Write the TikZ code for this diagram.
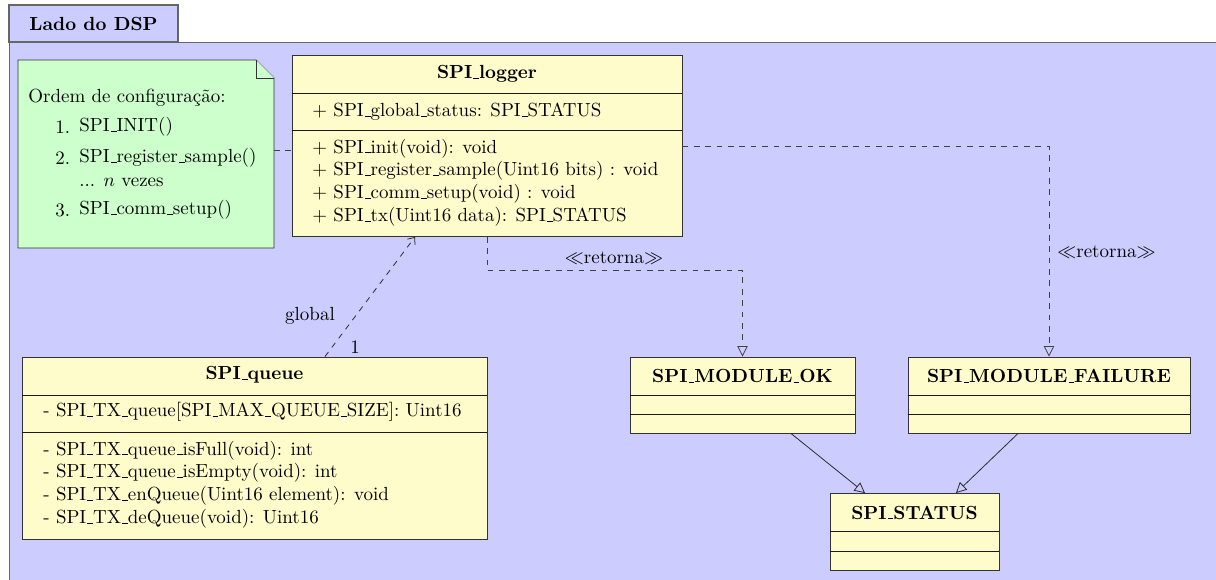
\documentclass[tikz,border=0pt]{standalone}
\usetikzlibrary{arrows.meta,calc}
\newcommand{\us}{\leavevmode\kern.06em\vbox{\hrule width.3em}}
\begin{document}
\begin{tikzpicture}[x=0.527pt,y=-0.527pt,
  pkgbox/.style={draw=black!60, fill=blue!20, inner sep=0pt, line width=0.6pt},
  classbox/.style={draw=black!80, fill=yellow!20, inner sep=0pt, rectangle, line width=0.5pt},
  sepline/.style={draw=black!90, line width=0.5pt},
  notebox/.style={draw=black!80, fill=green!20, line width=0.5pt},
  dep/.style={draw=black!75, dashed, -{Triangle[open,length=5.5pt,width=5.5pt]}},
  assoc/.style={draw=black!85, dashed, -{Straight Barb[length=3pt,width=5pt]}},
  gen/.style={draw=black!85, -{Triangle[open,length=5.5pt,width=5.5pt]}},
  ctitle/.style={font=\bfseries, inner sep=0pt},
  ctext/.style={align=left, inner sep=0pt, anchor=west},
  lbl/.style={inner sep=0pt}
]
\def\U{0.527pt}
\path[use as bounding box] (0,0) rectangle (1216,579);
\clip (0,0) rectangle (1216,579);

% package
\node[pkgbox, anchor=north west, minimum width={1240*\U}, minimum height={580*\U}] (pkg) at (9,42) {};
\node[pkgbox, minimum width={169*\U}, minimum height={37*\U}] (tab) at (93.5,23.5) {};
\node[ctitle] (tabtitle) at (tab.center) {Lado do DSP};

% note
\draw[notebox] (18,60) -- (256,60) -- (274,78) -- (274,248) -- (18,248) -- cycle;
\draw[notebox] (256,60) -- (256,78) -- (274,78);
\coordinate (noteE) at (274,150);
\node[lbl, anchor=west] (notehead) at (28,98) {Ordem de configuração:};
\node[lbl, anchor=west] (n1) at (55,127) {1.};
\node[lbl, anchor=west] (t1) at (79,127) {SPI\us INIT()};
\node[lbl, anchor=west] (n2) at (55,158) {2.};
\node[lbl, anchor=west] (t2) at (79,158) {SPI\us register\us sample()};
\node[lbl, anchor=west] (t2b) at (79,182) {... $n$ vezes};
\node[lbl, anchor=west] (n3) at (55,210) {3.};
\node[lbl, anchor=west] (t3) at (79,210) {SPI\us comm\us setup()};

% SPI_logger
\node[classbox, minimum width={390*\U}, minimum height={181*\U}] (logger) at (487,146) {};
\draw[sepline] (logger.west |- 0,93) -- (logger.east |- 0,93);
\draw[sepline] (logger.west |- 0,130.7) -- (logger.east |- 0,130.7);
\node[ctitle] (loggerT) at (487,74) {SPI\us logger};
\node[ctext] (loggerA) at (312,112) {+ SPI\us global\us status: SPI\us STATUS};
\node[ctext] (loggerM) at (312,182.5) {+ SPI\us init(void): void\\+ SPI\us register\us sample(Uint16 bits) : void\\+ SPI\us comm\us setup(void) : void\\+ SPI\us tx(Uint16 data): SPI\us STATUS};

% SPI_queue
\node[classbox, minimum width={465*\U}, minimum height={182*\U}] (queue) at (254.5,448) {};
\draw[sepline] (queue.west |- 0,395) -- (queue.east |- 0,395);
\draw[sepline] (queue.west |- 0,432) -- (queue.east |- 0,432);
\node[ctitle] (queueT) at (254.5,375) {SPI\us queue};
\node[ctext] (queueA) at (43,412) {- SPI\us TX\us queue[SPI\us MAX\us QUEUE\us SIZE]: Uint16};
\node[ctext] (queueM) at (43,484.5) {- SPI\us TX\us queue\us isFull(void): int\\- SPI\us TX\us queue\us isEmpty(void): int\\- SPI\us TX\us enQueue(Uint16 element): void\\- SPI\us TX\us deQueue(void): Uint16};

% SPI_MODULE_OK
\node[classbox, minimum width={225*\U}, minimum height={76*\U}] (ok) at (742.5,395) {};
\draw[sepline] (ok.west |- 0,395) -- (ok.east |- 0,395);
\draw[sepline] (ok.west |- 0,414) -- (ok.east |- 0,414);
\node[ctitle] (okT) at (742.5,376) {SPI\us MODULE\us OK};

% SPI_MODULE_FAILURE
\node[classbox, minimum width={282*\U}, minimum height={76*\U}] (failure) at (1049,395) {};
\draw[sepline] (failure.west |- 0,395) -- (failure.east |- 0,395);
\draw[sepline] (failure.west |- 0,414) -- (failure.east |- 0,414);
\node[ctitle] (failureT) at (1049,376) {SPI\us MODULE\us FAILURE};

% SPI_STATUS
\node[classbox, minimum width={169*\U}, minimum height={77*\U}] (status) at (914.5,532) {};
\draw[sepline] (status.west |- 0,531.7) -- (status.east |- 0,531.7);
\draw[sepline] (status.west |- 0,551) -- (status.east |- 0,551);
\node[ctitle] (statusT) at (914.5,512.5) {SPI\us STATUS};

% connectors
\draw[draw=black!75, dashed] (noteE) -- (logger.west |- noteE);
\draw[dep] (logger.east) -- (logger.east -| failure.north) -- (failure.north);
\node[lbl, anchor=west] (ret2) at (1057,252) {$\ll$retorna$\gg$};
\draw[dep] (logger.south) -- ++(0,33.5) -| (ok.north);
\node[lbl] (ret1) at (614,258) {$\ll$retorna$\gg$};
\draw[assoc] ($(queue.north)+(70.5,0)$) -- ($(logger.south)+(-72,0)$);
\node[lbl] (glob) at (310,316) {global};
\node[lbl] (one) at (355,347) {1};
\draw[gen] ($(ok.south)+(48.5,0)$) -- ($(status.north)+(-49.5,0)$);
\draw[gen] ($(failure.south)+(-31,0)$) -- ($(status.north)+(41.5,0)$);
\end{tikzpicture}
\end{document}
